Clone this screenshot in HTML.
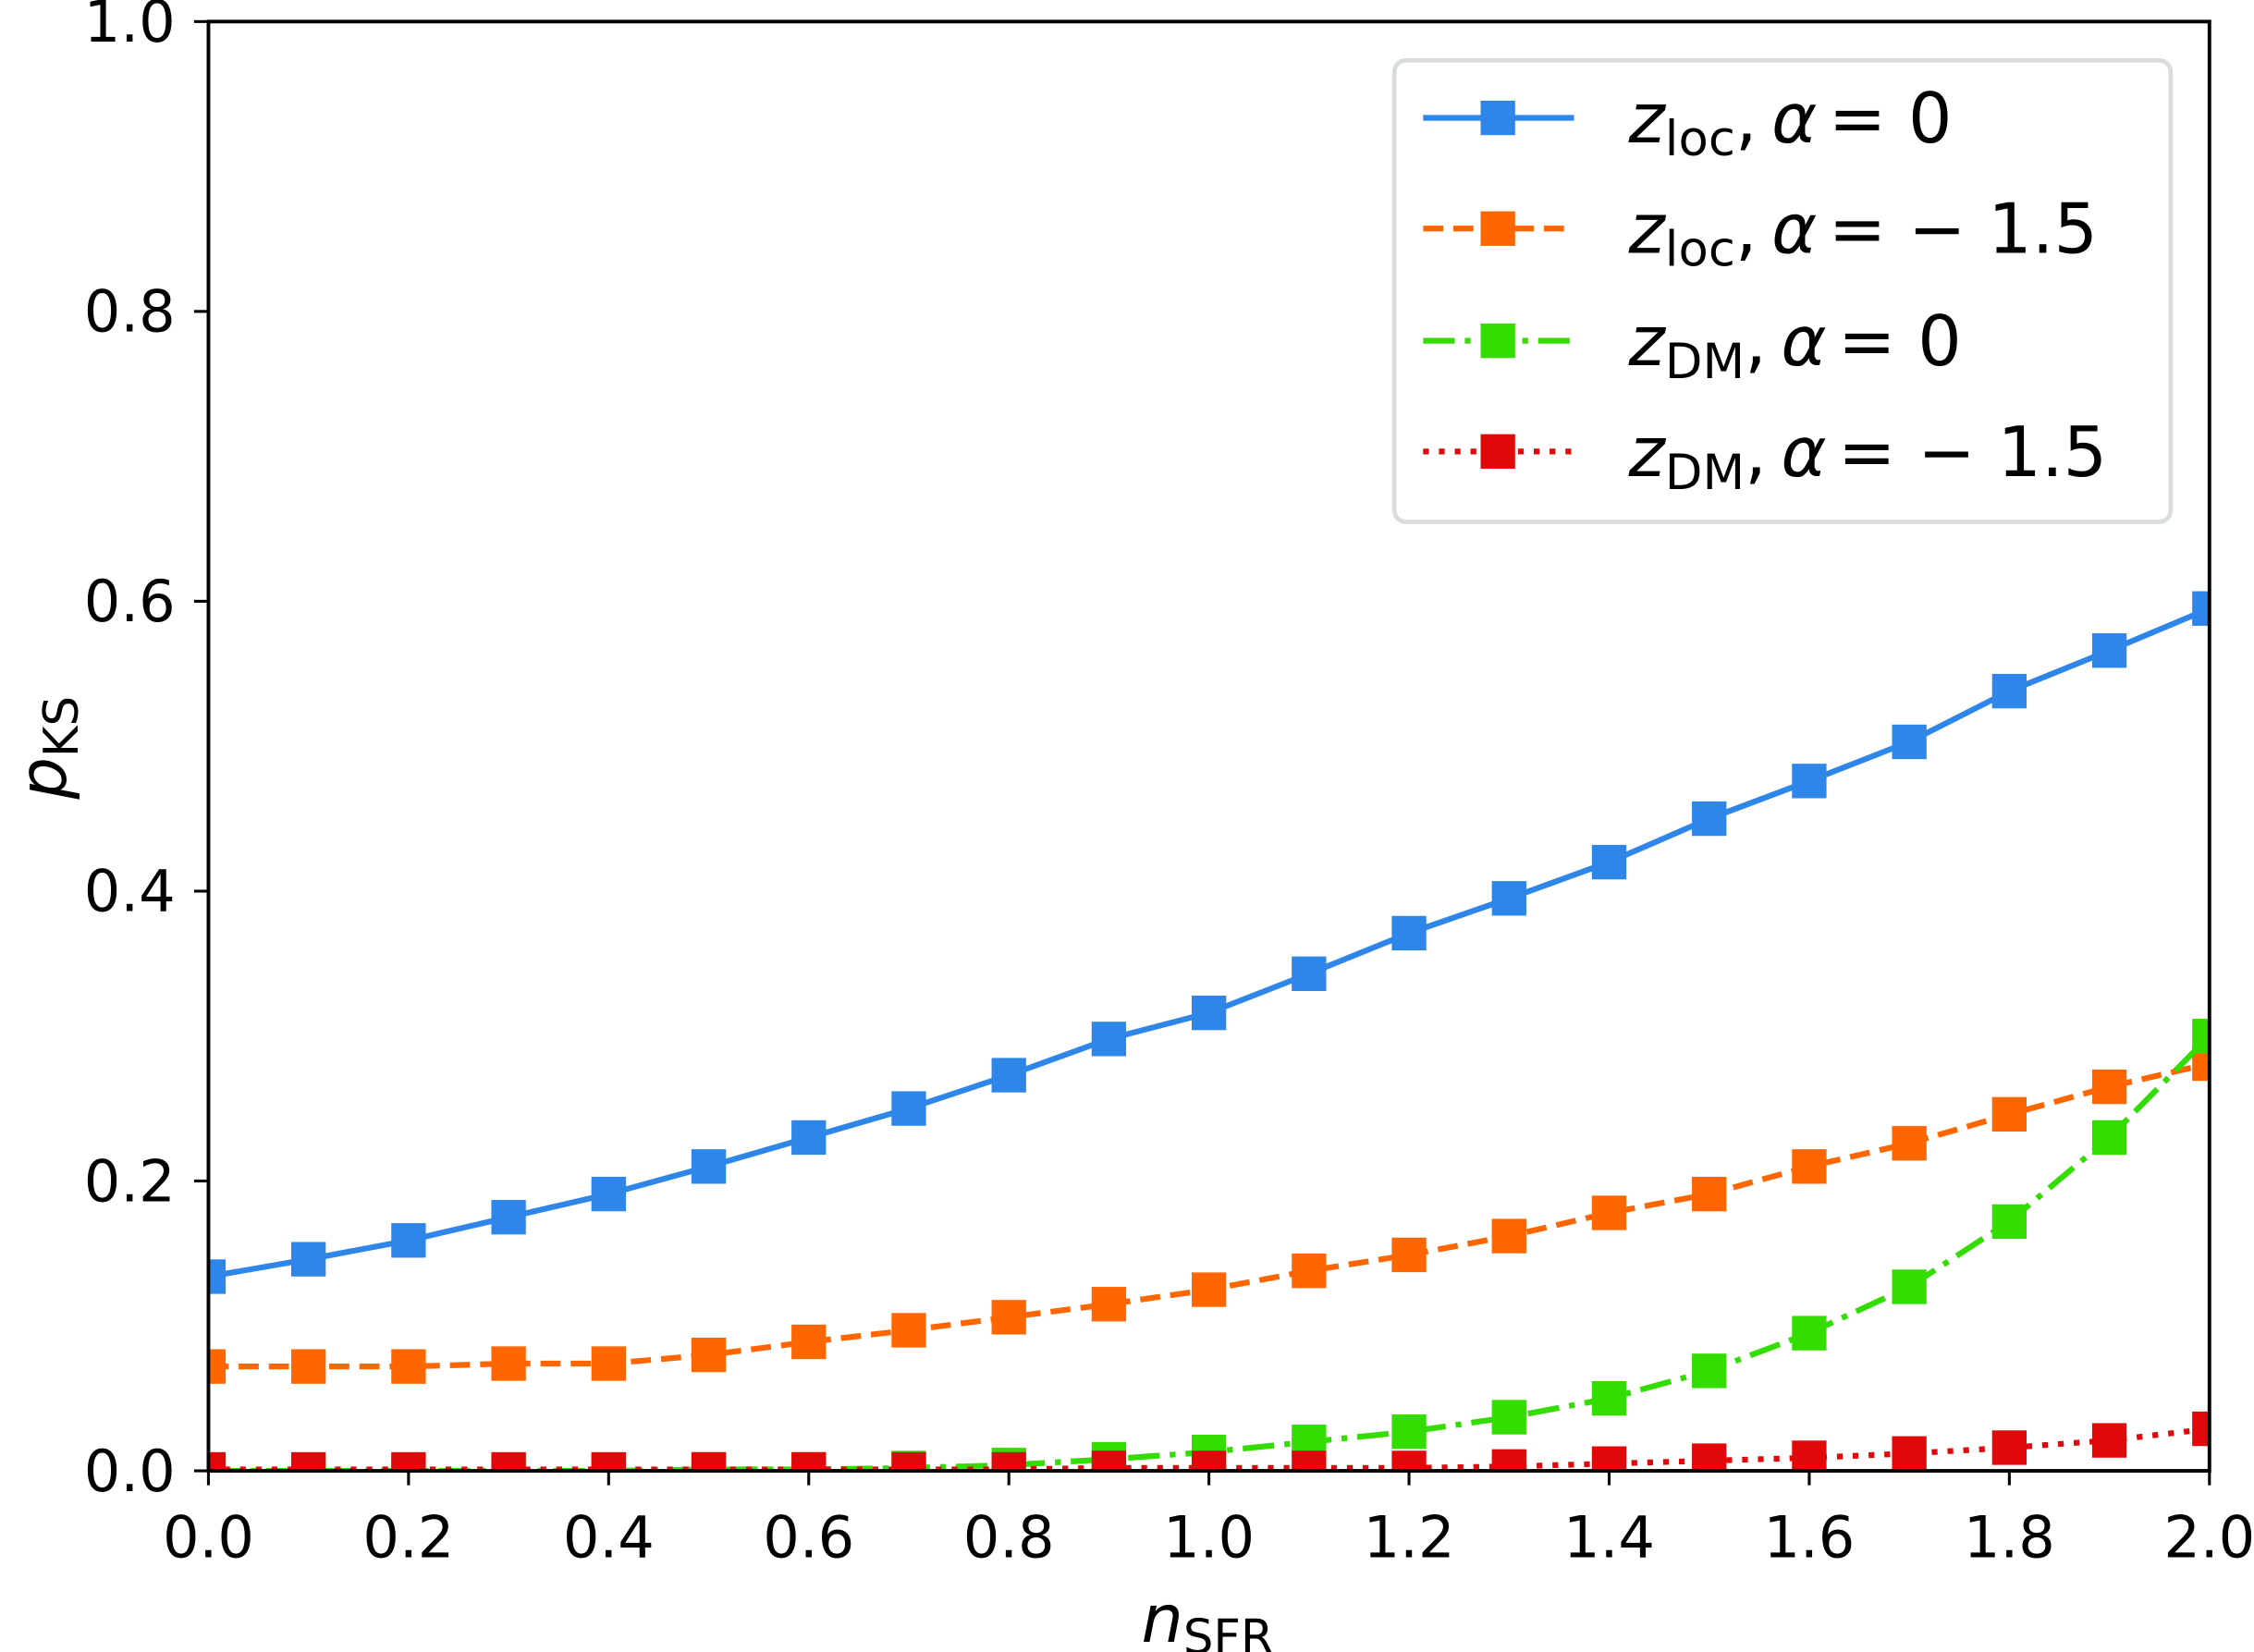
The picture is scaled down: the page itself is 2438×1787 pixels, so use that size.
<!DOCTYPE html>
<html><head><meta charset="utf-8"><style>
html,body{margin:0;padding:0;background:#fff;}
svg{display:block;}
text{font-family:"DejaVu Sans","Liberation Sans",sans-serif;fill:#000;}
</style></head><body>
<svg id="chart" width="2438" height="1787" viewBox="0 0 1568 1149" preserveAspectRatio="none" xmlns="http://www.w3.org/2000/svg">
<g id="plot"></g>
<g id="axes"></g>
<g id="legend"></g>
</svg>
<script>
const xValues = [0,0.1,0.2,0.3,0.4,0.5,0.6,0.7,0.8,0.9,1.0,1.1,1.2,1.3,1.4,1.5,1.6,1.7,1.8,1.9,2.0];
const blueValues = [0.134,0.146,0.159,0.175,0.191,0.210,0.230,0.250,0.273,0.298,0.316,0.343,0.371,0.395,0.420,0.450,0.476,0.503,0.538,0.566,0.595];
const orangeValues = [0.072,0.072,0.072,0.074,0.074,0.080,0.089,0.097,0.106,0.115,0.125,0.138,0.149,0.162,0.178,0.191,0.210,0.226,0.246,0.265,0.281];
const greenValues = [0.000,0.000,0.000,0.000,0.000,0.001,0.001,0.002,0.004,0.008,0.013,0.020,0.027,0.037,0.050,0.069,0.095,0.127,0.172,0.230,0.300];
const redValues = [0.001,0.001,0.001,0.001,0.001,0.001,0.001,0.001,0.001,0.002,0.002,0.002,0.002,0.003,0.005,0.007,0.009,0.012,0.016,0.021,0.029];
const xTickLabels = ["0.0","0.2","0.4","0.6","0.8","1.0","1.2","1.4","1.6","1.8","2.0"];
const yTickLabels = ["0.0","0.2","0.4","0.6","0.8","1.0"];

const NS="http://www.w3.org/2000/svg";
const X0=145,X1=1537,Y0=1023,Y1=15;
function sx(v){return X0+(v-0)/(2.0)*(X1-X0);}
function sy(v){return Y0-(v-0)/(1.0)*(Y0-Y1);}
function mk(tag,attrs,parent){const e=document.createElementNS(NS,tag);for(const k in attrs)e.setAttribute(k,attrs[k]);parent.appendChild(e);return e;}

const plot=document.getElementById('plot');
const axes=document.getElementById('axes');

const series=[
 {name:'blue',vals:blueValues,color:'#2e86e8',dash:'none'},
 {name:'orange',vals:orangeValues,color:'#ff6600',dash:'14,7'},
 {name:'green',vals:greenValues,color:'#33dd00',dash:'22,7,4,7'},
 {name:'red',vals:redValues,color:'#e00808',dash:'4,7'}
];
series.forEach(s=>{
  const g=mk('g',{},plot);
  
  
  const pts=xValues.map((x,i)=>sx(x)+','+sy(s.vals[i])).join(' ');
  const pl=mk('polyline',{points:pts,fill:'none',stroke:s.color,'stroke-width':4,'stroke-dasharray':s.dash},g);
  
  
  xValues.forEach((x,i)=>{
    const r=mk('rect',{x:sx(x)-12,y:sy(s.vals[i])-12,width:24,height:24,fill:s.color},g);
    
    
  });
});
mk('rect',{x:0,y:0,width:X0-1,height:1149,fill:'#fff'},axes);
mk('rect',{x:X1+1,y:0,width:40,height:1149,fill:'#fff'},axes);
mk('rect',{x:0,y:Y0+1,width:1568,height:130,fill:'#fff'},axes);
const frame=mk('rect',{x:X0,y:Y1,width:X1-X0,height:Y0-Y1,fill:'none',stroke:'#000','stroke-width':2.5},axes);


xTickLabels.forEach(l=>{
  const v=parseFloat(l),x=sx(v);
  mk('line',{x1:x,x2:x,y1:Y0,y2:Y0+10,stroke:'#000','stroke-width':2},axes);
  const t=mk('text',{x:x,y:1083,'font-size':40,'text-anchor':'middle'},axes);
  t.textContent=l;
  
  
});
yTickLabels.forEach(l=>{
  const v=parseFloat(l),y=sy(v);
  mk('line',{x1:X0-10,x2:X0,y1:y,y2:y,stroke:'#000','stroke-width':2},axes);
  const t=mk('text',{x:122,y:y+14,'font-size':40,'text-anchor':'end'},axes);
  t.textContent=l;
  
  
});
</script>
<script>
(function(){
const ax=document.getElementById('axes');
ax.insertAdjacentHTML('beforeend',
 '<text x="840" y="1142" font-size="46" text-anchor="middle"><tspan font-style="italic">n</tspan><tspan font-size="33" dy="8">SFR</tspan></text>'+
 '<text transform="translate(46,520) rotate(-90)" font-size="46" text-anchor="middle"><tspan font-style="italic">p</tspan><tspan font-size="33" dy="8">KS</tspan></text>');
const lg=document.getElementById('legend');
lg.insertAdjacentHTML('beforeend','<rect x="970" y="42" width="540" height="321" rx="8" fill="#fff" fill-opacity="0.85" stroke="#d8dcdc" stroke-width="3"/>');
const items=[
 ['#2e86e8','none','loc','= 0',82],
 ['#ff6600','14,7','loc','= \u2212 1.5',159],
 ['#33dd00','22,7,4,7','DM','= 0',237],
 ['#e00808','4,7','DM','= \u2212 1.5',314]
];
items.forEach(it=>{
 lg.insertAdjacentHTML('beforeend',
 '<g>'+
 '<line x1="990" x2="1095" y1="'+it[4]+'" y2="'+it[4]+'" stroke="'+it[0]+'" stroke-width="4" stroke-dasharray="'+it[1]+'"/>'+
 '<rect x="1030" y="'+(it[4]-12)+'" width="24" height="24" fill="'+it[0]+'"/>'+
 '<text x="1133" y="'+(it[4]+17)+'" font-size="48"><tspan font-style="italic">z</tspan><tspan font-size="34" dy="9">'+it[2]+'</tspan><tspan dy="-9">,</tspan><tspan font-style="italic" dx="10">\u03b1</tspan><tspan dx="8">'+it[3]+'</tspan></text></g>');
});
})();
</script>
</body></html>
